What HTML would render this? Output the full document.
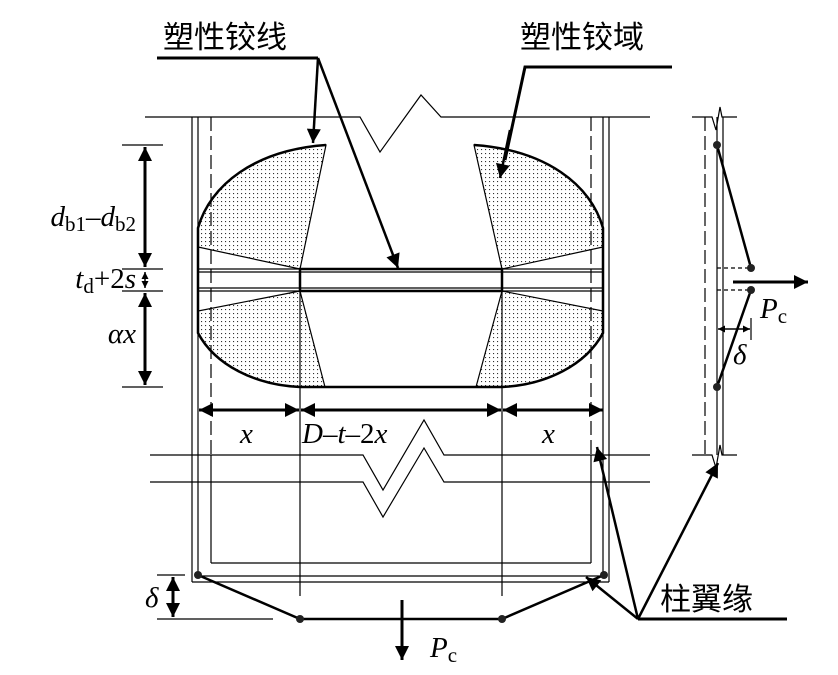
<!DOCTYPE html>
<html><head><meta charset="utf-8"><style>
html,body{margin:0;padding:0;background:#fff;}
svg{display:block;}
.cn{font-family:"Liberation Sans","Noto Sans CJK SC",sans-serif;font-size:31px;fill:#000;}
.it{font-family:"Liberation Serif",serif;font-style:italic;font-size:29px;fill:#000;}
.rm{font-family:"Liberation Serif",serif;font-size:21px;font-style:normal;}
</style></head><body>
<svg width="838" height="675" viewBox="0 0 838 675" xmlns="http://www.w3.org/2000/svg">
<defs>
<pattern id="dots" width="4" height="4" patternUnits="userSpaceOnUse">
<rect width="4" height="4" fill="#fff"/><rect x="1" y="1" width="1.1" height="1.1" fill="#333"/>
</pattern>
<marker id="ah" viewBox="0 0 10 10" refX="10" refY="5" markerWidth="7" markerHeight="7" markerUnits="userSpaceOnUse" orient="auto-start-reverse">
<path d="M0,0 L10,5 L0,10 z" fill="#000"/></marker>
<marker id="ab" viewBox="0 0 10 10" refX="10" refY="5" markerWidth="16" markerHeight="14" markerUnits="userSpaceOnUse" orient="auto-start-reverse">
<path d="M0,0 L10,5 L0,10 z" fill="#000"/></marker>
</defs>

<g fill="url(#dots)" stroke="#000" stroke-width="1.2">
<path d="M326,145 L300,269 L198,247 L198,228 C210,185 255,150 326,145 Z"/>
<path d="M300,291 L325,387 L300,387 C255,385 215,365 198,333 L198,311 Z"/>
<path d="M474,145 L502,269 L603,247 L603,228 C591,185 546,150 474,145 Z"/>
<path d="M502,291 L476,387 L502,387 C546,385 586,365 603,333 L603,311 Z"/>
</g>
<g fill="none" stroke="#000" stroke-width="2.5">
<path d="M326,145 C255,150 210,185 198,228 L198,333 C215,365 255,385 300,387 L502,387 C546,385 586,365 603,333 L603,228 C591,185 546,150 474,145"/>
<rect x="300" y="269" width="202" height="22"/>
</g>

<g stroke="#000" stroke-width="1.2" fill="none">
<line x1="192" y1="117" x2="192" y2="582"/>
<line x1="198" y1="117" x2="198" y2="576"/>
<line x1="609" y1="117" x2="609" y2="582"/>
<line x1="603" y1="117" x2="603" y2="576"/>
<line x1="192" y1="582" x2="609" y2="582"/>
<line x1="198" y1="576" x2="603" y2="576"/>
<line x1="211" y1="455" x2="211" y2="563" />
<line x1="591" y1="455" x2="591" y2="563" />
<line x1="211" y1="563" x2="591" y2="563"/>
<line x1="211" y1="117" x2="211" y2="455" stroke-dasharray="14,5"/>
<line x1="591" y1="117" x2="591" y2="455" stroke-dasharray="14,5"/>
<line x1="198" y1="269" x2="603" y2="269"/>
<line x1="198" y1="272" x2="603" y2="272"/>
<line x1="198" y1="288" x2="603" y2="288"/>
<line x1="198" y1="291" x2="603" y2="291"/>
<line x1="300" y1="269" x2="300" y2="596"/>
<line x1="502" y1="269" x2="502" y2="596"/>
<polyline points="145,117 360,117 380,152 421,95 441,117 650,117" fill="none"/>
<polyline points="150,455 363,455 383,490 424,420 444,455 650,455"/>
<polyline points="150,482 363,482 383,517 424,448 444,482 650,482"/>
<line x1="122" y1="145" x2="163" y2="145"/>
<line x1="122" y1="269" x2="163" y2="269"/>
<line x1="122" y1="291" x2="163" y2="291"/>
<line x1="122" y1="387" x2="163" y2="387"/>
<line x1="157" y1="575" x2="185" y2="575"/>
<line x1="157" y1="619" x2="273" y2="619"/>
<line x1="705" y1="117" x2="705" y2="455" stroke-dasharray="14,5"/>
<line x1="717" y1="117" x2="717" y2="455"/>
<line x1="723" y1="117" x2="723" y2="455"/>
<polyline points="692,117 712,117 716,130 720,107 722,117 737,117"/>
<polyline points="692,455 712,455 716,468 720,445 722,455 737,455"/>
<line x1="717" y1="268" x2="751" y2="268" stroke-dasharray="4,3"/>
<line x1="717" y1="290" x2="751" y2="290" stroke-dasharray="4,3"/>
<line x1="751" y1="318" x2="751" y2="340"/>
</g>

<g stroke="#000" fill="none">
<line x1="145" y1="147" x2="145" y2="267" stroke-width="3" marker-start="url(#ab)" marker-end="url(#ab)"/>
<line x1="145" y1="272" x2="145" y2="288" stroke-width="1.5" marker-start="url(#ah)" marker-end="url(#ah)"/>
<line x1="145" y1="293" x2="145" y2="385" stroke-width="3" marker-start="url(#ab)" marker-end="url(#ab)"/>
<line x1="199" y1="410" x2="299" y2="410" stroke-width="3" marker-start="url(#ab)" marker-end="url(#ab)"/>
<line x1="301" y1="410" x2="501" y2="410" stroke-width="3" marker-start="url(#ab)" marker-end="url(#ab)"/>
<line x1="503" y1="410" x2="603" y2="410" stroke-width="3" marker-start="url(#ab)" marker-end="url(#ab)"/>
<line x1="173" y1="577" x2="173" y2="617" stroke-width="3" marker-start="url(#ab)" marker-end="url(#ab)"/>
<polyline points="198,575 300,619 502,619 604,575" stroke-width="2.5"/>
<line x1="402" y1="600" x2="402" y2="660" stroke-width="3" marker-end="url(#ab)"/>
<polyline points="157,58 318,58" stroke-width="3"/>
<line x1="318" y1="58" x2="313" y2="143" stroke-width="2.5" marker-end="url(#ab)"/>
<line x1="318" y1="58" x2="398" y2="268" stroke-width="2.5" marker-end="url(#ab)"/>
<polyline points="672,67 525,67 505,160" stroke-width="3"/>
<line x1="510" y1="130" x2="500" y2="178" stroke-width="2.5" marker-end="url(#ab)"/>
<line x1="638" y1="619" x2="787" y2="619" stroke-width="3"/>
<line x1="638" y1="619" x2="586" y2="577" stroke-width="2.5" marker-end="url(#ab)"/>
<line x1="638" y1="619" x2="597" y2="447" stroke-width="2.5" marker-end="url(#ab)"/>
<line x1="638" y1="619" x2="718" y2="463" stroke-width="2.5" marker-end="url(#ab)"/>
<polyline points="717,145 751,268" stroke-width="2.5"/>
<polyline points="751,290 717,387" stroke-width="2.5"/>
<line x1="733" y1="282" x2="808" y2="282" stroke-width="3" marker-end="url(#ab)"/>
<line x1="718" y1="329" x2="750" y2="329" stroke-width="1.5" marker-start="url(#ah)" marker-end="url(#ah)"/>
</g>
<g fill="#222">
<circle cx="198" cy="575" r="4"/><circle cx="300" cy="619" r="4"/>
<circle cx="502" cy="619" r="4"/><circle cx="604" cy="575" r="4"/>
<circle cx="717" cy="145" r="4"/><circle cx="751" cy="268" r="4"/>
<circle cx="751" cy="290" r="4"/><circle cx="717" cy="387" r="4"/>
</g>

<text class="cn" x="163" y="48">塑性铰线</text>
<text class="cn" x="520" y="48">塑性铰域</text>
<text class="cn" x="660" y="610">柱翼缘</text>
<text class="it" x="136" y="226" text-anchor="end">d<tspan class="rm" dy="5">b1</tspan><tspan dy="-5" font-style="normal">–</tspan>d<tspan class="rm" dy="5">b2</tspan></text>
<text class="it" x="136" y="288" text-anchor="end">t<tspan class="rm" dy="5">d</tspan><tspan dy="-5" font-style="normal">+2</tspan>s</text>
<text class="it" x="136" y="343" text-anchor="end">αx</text>
<text class="it" x="240" y="443">x</text>
<text class="it" x="302" y="443">D<tspan font-style="normal">–</tspan>t<tspan font-style="normal">–2</tspan>x</text>
<text class="it" x="542" y="443">x</text>
<text class="it" x="145" y="607">δ</text>
<text class="it" x="430" y="657">P<tspan class="rm" dy="5">c</tspan></text>
<text class="it" x="760" y="318">P<tspan class="rm" dy="5">c</tspan></text>
<text class="it" x="733" y="364">δ</text>
</svg>
</body></html>
